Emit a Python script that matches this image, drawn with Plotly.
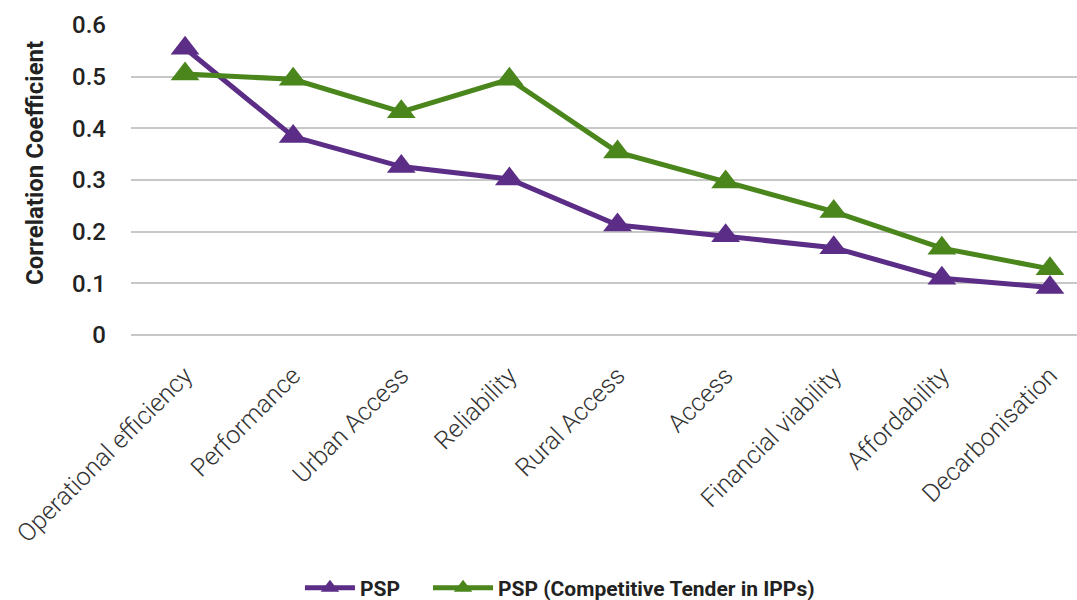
import plotly.graph_objects as go

categories = ["Operational efficiency", "Performance", "Urban Access", "Reliability",
              "Rural Access", "Access", "Financial viability", "Affordability", "Decarbonisation"]
psp = [0.555, 0.384, 0.326, 0.302, 0.213, 0.192, 0.169, 0.110, 0.092]
psp_ct = [0.505, 0.495, 0.432, 0.495, 0.354, 0.296, 0.239, 0.168, 0.128]
y_ticks = [0, 0.1, 0.2, 0.3, 0.4, 0.5, 0.6]
y_tick_text = ["0", "0.1", "0.2", "0.3", "0.4", "0.5", "0.6"]

PURPLE = "#5B2D86"
GREEN = "#4A861C"
FONT = "Roboto"

fig = go.Figure()
fig.add_trace(go.Scatter(
    x=list(range(len(categories))), y=psp, name="PSP", mode="lines+markers",
    line=dict(color=PURPLE, width=5),
    marker=dict(symbol="triangle-up", size=25, color=PURPLE),
    cliponaxis=False, legend="legend",
))
fig.add_trace(go.Scatter(
    x=list(range(len(categories))), y=psp_ct, name="PSP (Competitive Tender in IPPs)",
    mode="lines+markers",
    line=dict(color=GREEN, width=5),
    marker=dict(symbol="triangle-up", size=25, color=GREEN),
    cliponaxis=False, legend="legend2",
))

legend_font = dict(family=FONT, size=21, color="#222222", weight="bold")

fig.update_layout(
    width=1077, height=600,
    margin=dict(l=131, r=0, t=25, b=265),
    plot_bgcolor="white", paper_bgcolor="white",
    font=dict(family=FONT, color="#222222"),
    showlegend=True,
    legend=dict(
        orientation="h", x=0.1786, xanchor="left", yref="container", y=0.02, yanchor="middle",
        font=legend_font, bgcolor="rgba(0,0,0,0)", itemwidth=50,
    ),
    legend2=dict(
        orientation="h", x=0.314, xanchor="left", yref="container", y=0.02, yanchor="middle",
        font=legend_font, bgcolor="rgba(0,0,0,0)", itemwidth=60,
    ),
    xaxis=dict(
        tickmode="array", tickvals=list(range(len(categories))), ticktext=categories,
        range=[-0.5, 8.25], tickangle=-45, showgrid=False, zeroline=False,
        showline=False, ticks="",
        tickfont=dict(family=FONT, size=25, color="#333333", weight=300),
        ticklabelstandoff=20,
    ),
    yaxis=dict(
        tickmode="array", tickvals=y_ticks, ticktext=y_tick_text,
        range=[0, 0.6], showgrid=True, gridcolor="#C8C8C8", gridwidth=1.5,
        zeroline=True, zerolinecolor="#C8C8C8", zerolinewidth=1.5,
        tickfont=dict(family=FONT, size=24, color="#222222", weight=500),
        ticklabelstandoff=24,
    ),
    annotations=[dict(
        text="Correlation Coefficient", textangle=-90,
        xref="paper", yref="paper", x=-0.1015, y=0.555,
        xanchor="center", yanchor="middle", showarrow=False,
        font=dict(family=FONT, size=24, color="#222222", weight="bold"),
    )],
)

fig.write_html("out.html")
